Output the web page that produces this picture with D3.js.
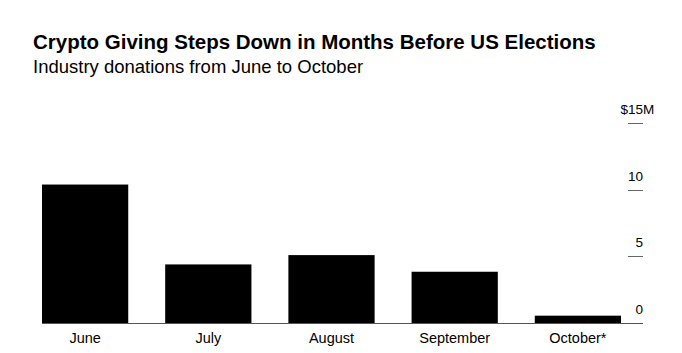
<!DOCTYPE html>
<html>
<head>
<meta charset="utf-8">
<script src="https://cdn.jsdelivr.net/npm/d3@7"></script>
<style>
  body { margin: 0; background: #fff; }
  svg text { font-family: "Liberation Sans", Arial, Helvetica, sans-serif; fill: #000; }
</style>
</head>
<body>
<div id="chart-container"></div>
<script>
// Monthly crypto industry donations, $M
const months = ["June", "July", "August", "September", "October*"];
const donations = [10.4, 4.4, 5.1, 3.85, 0.55];
const yTicks = [0, 5, 10, 15];

const width = 682;
const height = 353;

const svg = d3.select("#chart-container")
  .append("svg")
  .attr("width", width)
  .attr("height", height);

// Title and subtitle
svg.append("text")
  .attr("x", 33)
  .attr("y", 49)
  .style("font-size", "20.5px")
  .style("font-weight", "bold")
  .text("Crypto Giving Steps Down in Months Before US Elections");

svg.append("text")
  .attr("x", 33)
  .attr("y", 73)
  .style("font-size", "18.5px")
  .text("Industry donations from June to October");

const x = d3.scaleBand()
  .domain(months)
  .range([42, 621])
  .paddingInner(0.3)
  .paddingOuter(0);

const y = d3.scaleLinear()
  .domain([0, 15])
  .range([323, 123.3]);

// Bars
svg.selectAll("rect.bar")
  .data(months)
  .enter()
  .append("rect")
  .attr("class", "bar")
  .attr("x", d => x(d))
  .attr("width", x.bandwidth())
  .attr("y", (d, i) => y(donations[i]))
  .attr("height", (d, i) => y(0) - y(donations[i]))
  .attr("fill", "#000");

// Baseline
svg.append("line")
  .attr("x1", 42)
  .attr("x2", 643)
  .attr("y1", y(0) + 0.5)
  .attr("y2", y(0) + 0.5)
  .attr("stroke", "#555")
  .attr("stroke-width", 1);

// Y ticks on the right
const tickG = svg.append("g");
tickG.selectAll("line")
  .data(yTicks.filter(d => d > 0))
  .enter()
  .append("line")
  .attr("x1", 628)
  .attr("x2", 643)
  .attr("y1", d => Math.round(y(d)) + 0.5)
  .attr("y2", d => Math.round(y(d)) + 0.5)
  .attr("stroke", "#666");

tickG.selectAll("text")
  .data(yTicks)
  .enter()
  .append("text")
  .attr("x", 643)
  .attr("y", d => y(d) - 9)
  .attr("text-anchor", "end")
  .style("font-size", "13.5px")
  .text(d => d === 15 ? "$" + d : d);

tickG.append("text")
  .attr("x", 643)
  .attr("y", y(15) - 9)
  .style("font-size", "13.5px")
  .text("M");

// Month labels
svg.selectAll("text.month")
  .data(months)
  .enter()
  .append("text")
  .attr("class", "month")
  .attr("x", d => x(d) + x.bandwidth() / 2)
  .attr("y", 342.5)
  .attr("text-anchor", "middle")
  .style("font-size", "14.5px")
  .text(d => d);
</script>
</body>
</html>
